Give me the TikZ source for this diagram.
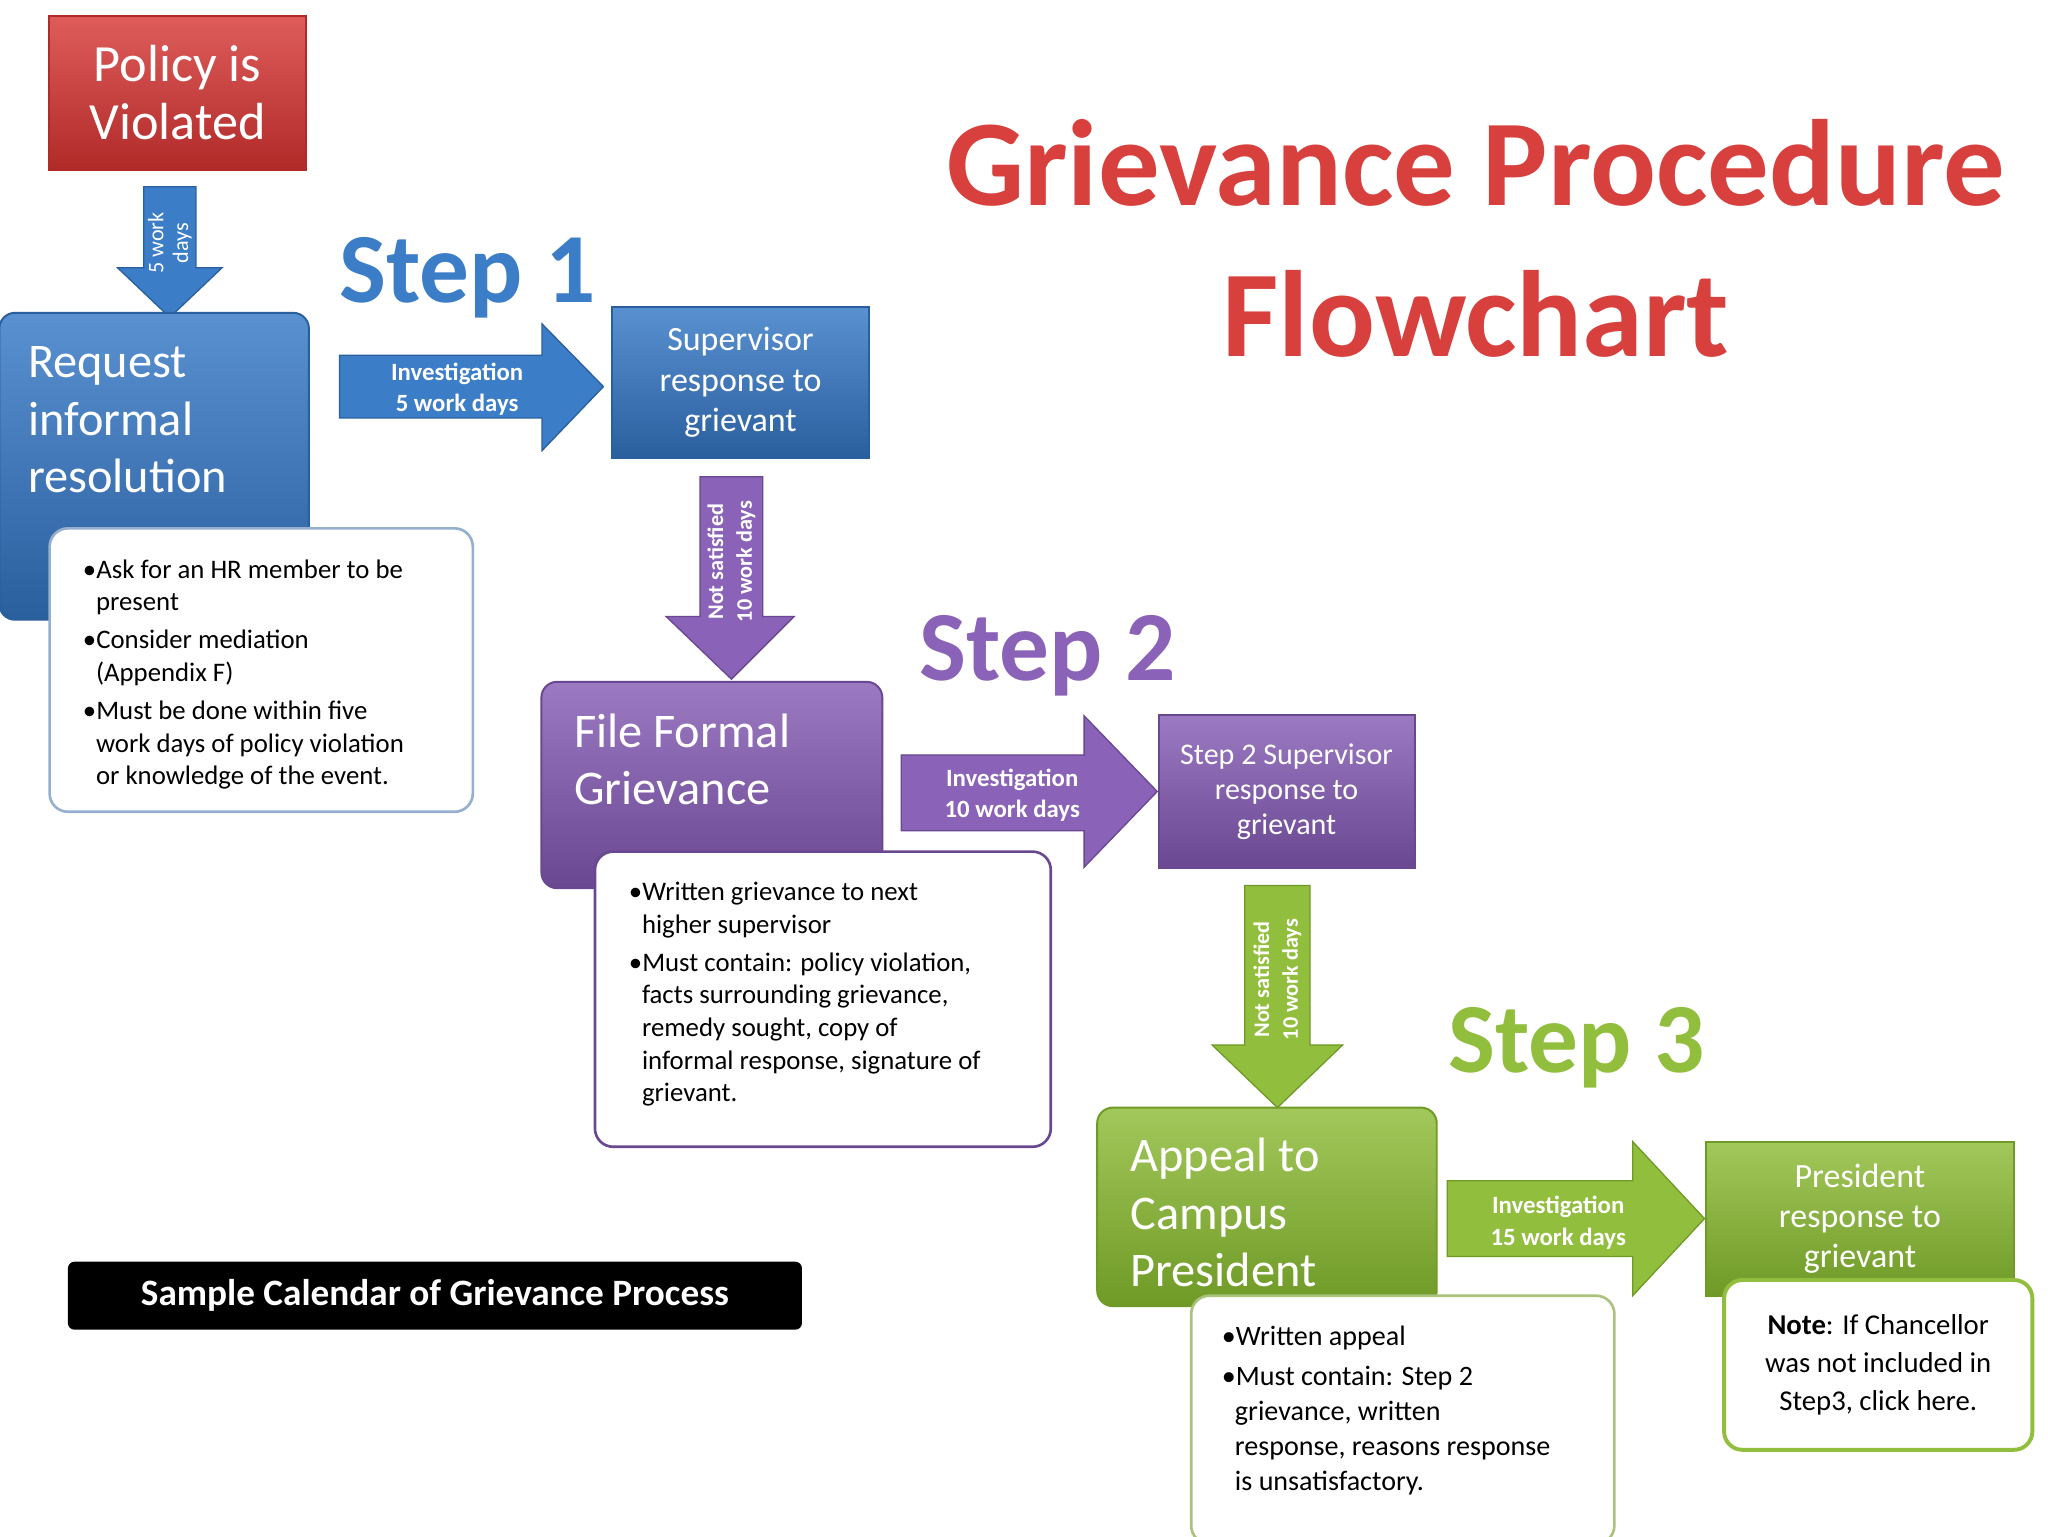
\documentclass[tikz,border=0pt]{standalone}
\usepackage{fontspec}
\setmainfont{Carlito}
\definecolor{bl}{HTML}{3C7DC8}\definecolor{blD}{HTML}{2A5F9E}
\definecolor{pu}{HTML}{8A63B8}\definecolor{puD}{HTML}{6A4791}
\definecolor{gr}{HTML}{92BE3E}\definecolor{grD}{HTML}{6F9A26}
\definecolor{rd}{HTML}{D8403E}\definecolor{rdD}{HTML}{B02A28}
\begin{document}
\begin{tikzpicture}[x=1pt,y=-1pt,
 box/.style={draw=#1D,line width=1.5pt,top color=#1!85!white,bottom color=#1D,text=white,align=center,inner sep=0pt},
 rbox/.style={box=#1,rounded corners=12pt},
 note/.style={draw=#1,line width=2pt,fill=white,rounded corners=14pt,align=left,inner sep=0pt,text=black},
 arr/.style={fill=#1,draw=#1D,line width=1pt},
 lab/.style={text=white,font=\bfseries\fontsize{19}{24}\selectfont,align=center},
 step/.style={font=\bfseries\fontsize{76}{76}\selectfont,text=#1},
 big/.style={font=\fontsize{37}{44}\selectfont,align=left,text=white},
 body/.style={font=\fontsize{20.5}{25}\selectfont,text=black}]
\useasboundingbox (0,0) rectangle (1568,1176);
\fill[white] (0,0) rectangle (1568,1176);
% title
\node[font=\bfseries\fontsize{94}{100}\selectfont,text=rd] (t1) at (1130,125) {Grievance Procedure};
\node[font=\bfseries\fontsize{94}{100}\selectfont,text=rd] (t2) at (1130,240) {Flowchart};
% policy
\node[box=rd,minimum width=197,minimum height=118,font=\fontsize{40}{44}\selectfont] (pol) at (136,71) {Policy is\\Violated};
\draw[arr=bl] (110,143)--(150,143)--(150,205)--(170,205)--(130,243)--(90,205)--(110,205)--cycle;
\node[lab,font=\fontsize{17}{19}\selectfont,rotate=90] (a0) at (130,186) {5 work\\days};
% step1
\node[rbox=bl,minimum width=237,minimum height=235] (req) at (118,357) {};
\node[big,anchor=north west] (reqt) at (18,262) {Request\\informal\\resolution};
\node[step=bl] (s1) at (358,213) {Step 1};
\draw[arr=bl] (260,272)--(415,272)--(415,248)--(462,296)--(415,345)--(415,320)--(260,320)--cycle;
\node[lab] (a1) at (350,298) {Investigation\\5 work days};
\node[box=bl,minimum width=197,minimum height=116,font=\fontsize{26}{31}\selectfont] (sup1) at (567,293) {Supervisor\\response to\\grievant};
\node[note=blD!50,minimum width=324,minimum height=217] (n1) at (200,513) {};
\node[body,anchor=north west,align=left] (n1t) at (60,425) {\textbullet Ask for an HR member to be\\\hspace*{10pt}present\\[4pt]\textbullet Consider mediation\\\hspace*{10pt}(Appendix F)\\[4pt]\textbullet Must be done within five\\\hspace*{10pt}work days of policy violation\\\hspace*{10pt}or knowledge of the event.};
% step2
\draw[arr=pu] (536,365)--(584,365)--(584,472)--(608,472)--(560,520)--(510,472)--(536,472)--cycle;
\node[lab,font=\bfseries\fontsize{17}{22}\selectfont,rotate=90] (a2) at (560,430) {Not satisfied\\10 work days};
\node[rbox=pu,minimum width=261,minimum height=158] (ffg) at (545,601) {};
\node[big,anchor=north west] (ffgt) at (436,543) {File Formal\\Grievance};
\node[step=pu] (s2) at (802,502) {Step 2};
\draw[arr=pu] (690,578)--(830,578)--(830,548)--(886,606)--(830,664)--(830,636)--(690,636)--cycle;
\node[lab] (a3) at (775,609) {Investigation\\10 work days};
\node[box=pu,minimum width=196,minimum height=117,font=\fontsize{23}{27}\selectfont] (sup2) at (985,606) {Step 2 Supervisor\\response to\\grievant};
\node[note=puD,minimum width=349,minimum height=226] (n2) at (630,765) {};
\node[body,anchor=north west,align=left] (n2t) at (478,672) {\textbullet Written grievance to next\\\hspace*{10pt}higher supervisor\\[4pt]\textbullet Must contain: policy violation,\\\hspace*{10pt}facts surrounding grievance,\\\hspace*{10pt}remedy sought, copy of\\\hspace*{10pt}informal response, signature of\\\hspace*{10pt}grievant.};
% step3
\draw[arr=gr] (953,678)--(1003,678)--(1003,800)--(1028,800)--(978,848)--(928,800)--(953,800)--cycle;
\node[lab,font=\bfseries\fontsize{17}{22}\selectfont,rotate=90] (a4) at (978,750) {Not satisfied\\10 work days};
\node[rbox=gr,minimum width=260,minimum height=152] (app) at (970,924) {};
\node[big,anchor=north west] (appt) at (862,868) {Appeal to\\Campus\\President};
\node[step=gr] (s3) at (1207,802) {Step 3};
\draw[arr=gr] (1108,904)--(1250,904)--(1250,874)--(1305,933)--(1250,992)--(1250,962)--(1108,962)--cycle;
\node[lab] (a5) at (1193,936) {Investigation\\15 work days};
\node[box=gr,minimum width=236,minimum height=118,font=\fontsize{26}{31}\selectfont] (pres) at (1424,933) {President\\response to\\grievant};
\node[note=grD!60,minimum width=324,minimum height=190] (n3) at (1074,1087) {};
\node[body,anchor=north west,align=left,font=\fontsize{21.5}{27}\selectfont] (n3t) at (932,1012) {\textbullet Written appeal\\[3pt]\textbullet Must contain: Step 2\\\hspace*{10pt}grievance, written\\\hspace*{10pt}response, reasons response\\\hspace*{10pt}is unsatisfactory.};
\node[note=gr,line width=3pt,minimum width=236,minimum height=130,align=center,font=\fontsize{22}{29}\selectfont] (note) at (1438,1045) {\textbf{Note}: If Chancellor\\was not included in\\Step3, click here.};
% calendar
\node[fill=black,rounded corners=5pt,minimum width=562,minimum height=52,text=white,font=\bfseries\fontsize{28.5}{30}\selectfont] (cal) at (333,992) {Sample Calendar of Grievance Process};
\end{tikzpicture}
\end{document}
